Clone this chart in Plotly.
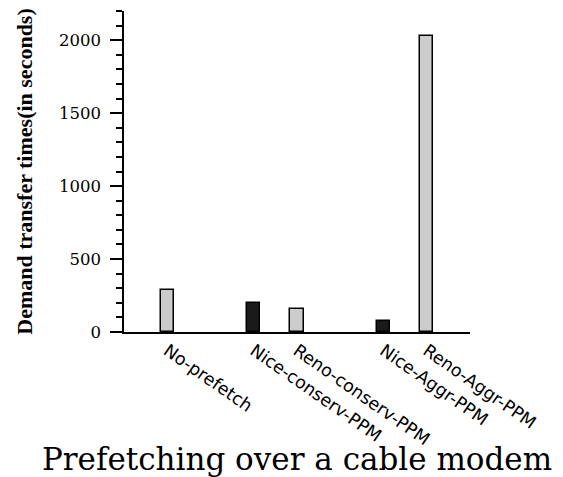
import plotly.graph_objects as go

# Data
categories = ["No-prefetch", "Nice-conserv-PPM", "Reno-conserv-PPM",
              "Nice-Aggr-PPM", "Reno-Aggr-PPM"]
protocol = ["None", "Nice", "Reno", "Nice", "Reno"]
transfer_times = [285, 200, 160, 73, 2030]

# Category order on the axis (blank spacers separate the groups)
category_order = ["No-prefetch", " ", "Nice-conserv-PPM", "Reno-conserv-PPM",
                  "  ", "Nice-Aggr-PPM", "Reno-Aggr-PPM"]

color_map = {"None": "#cccccc", "Reno": "#cccccc", "Nice": "#1a1a1a"}
bar_colors = [color_map[p] for p in protocol]

fig = go.Figure()
fig.add_trace(go.Bar(
    x=categories,
    y=transfer_times,
    width=0.31,
    marker=dict(color=bar_colors, line=dict(color="#000000", width=1.5)),
    showlegend=False,
))

fig.update_layout(
    width=563,
    height=477,
    margin=dict(l=124, r=93, t=11, b=145),
    paper_bgcolor="white",
    plot_bgcolor="white",
    bargap=0,
)

fig.update_xaxes(
    type="category",
    categoryorder="array",
    categoryarray=category_order,
    range=[-1, 7],
    tickvals=categories,
    ticktext=categories,
    tickangle=35,
    ticks="",
    showline=True,
    linecolor="black",
    linewidth=1.5,
    showgrid=False,
    zeroline=False,
    automargin=False,
    tickfont=dict(family="DejaVu Sans", size=17.5, color="black"),
    title=dict(text="Prefetching over a cable modem",
               font=dict(family="DejaVu Serif", size=31, color="black"),
               standoff=4),
)

fig.update_yaxes(
    range=[0, 2200],
    tickvals=[0, 500, 1000, 1500, 2000],
    ticks="outside",
    ticklen=12,
    tickwidth=1.5,
    tickcolor="black",
    minor=dict(dtick=100, ticks="outside", ticklen=6, tickwidth=1.5,
               tickcolor="black", showgrid=False),
    showline=True,
    linecolor="black",
    linewidth=1.5,
    showgrid=False,
    zeroline=False,
    automargin=False,
    ticklabelstandoff=6,
    tickfont=dict(family="DejaVu Serif", size=16.5, color="black"),
    title=dict(text="<b>Demand transfer times(in seconds)</b>",
               font=dict(family="Liberation Serif", size=22, color="black"),
               standoff=20),
)

fig.write_html("out.html")
